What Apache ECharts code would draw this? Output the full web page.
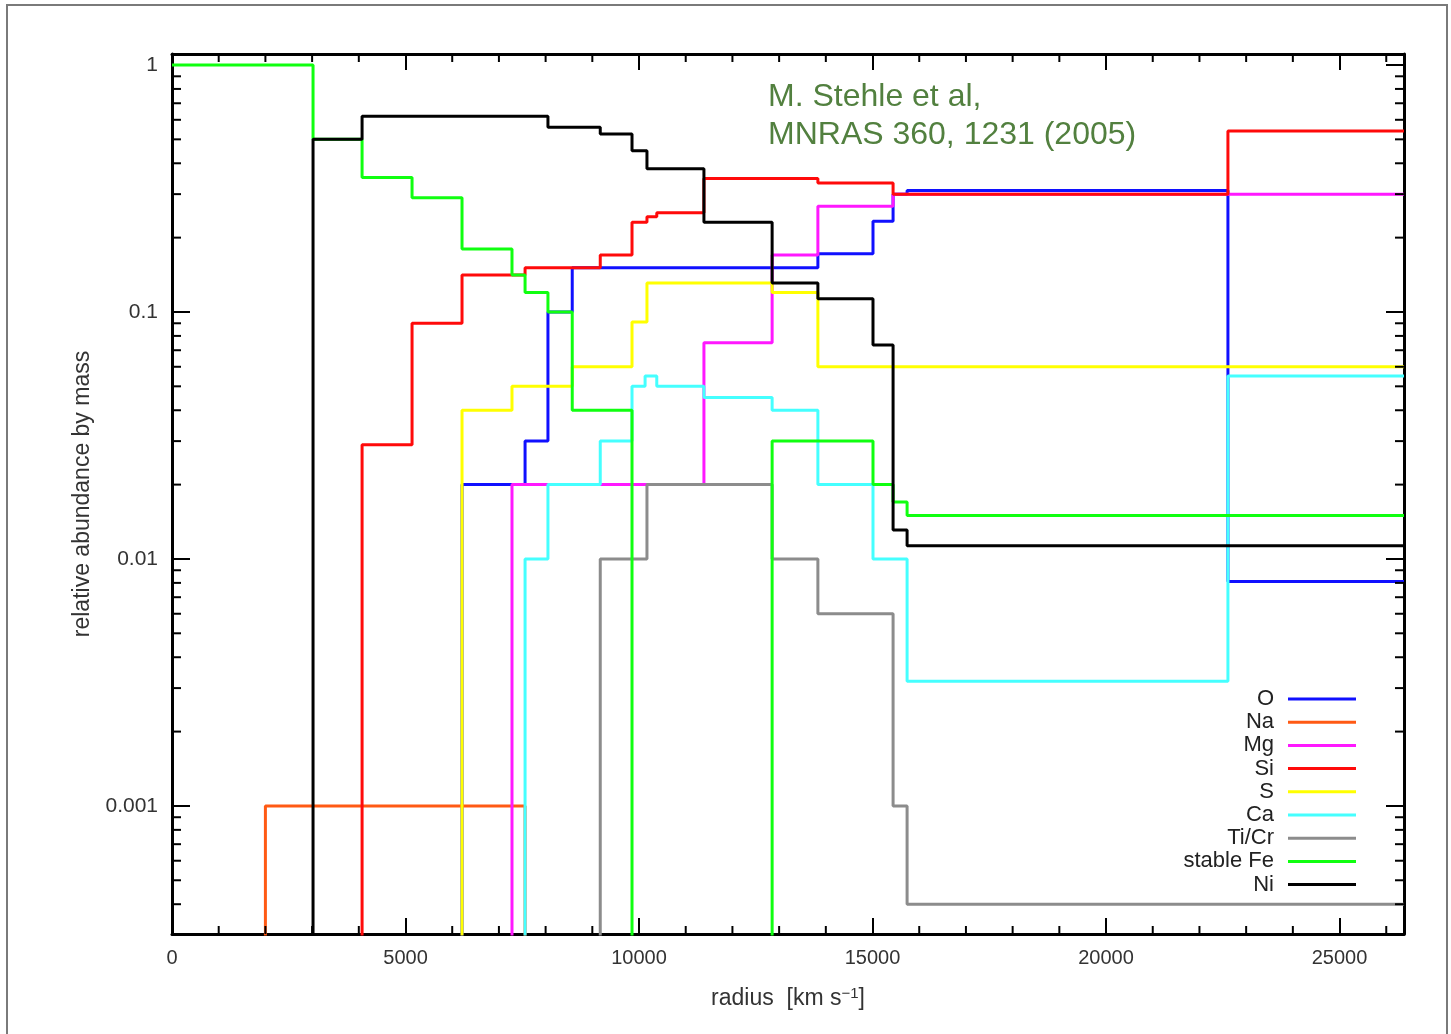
<!DOCTYPE html>
<html>
<head>
<meta charset="utf-8">
<title>Abundance stratification</title>
<script src="https://cdn.jsdelivr.net/npm/echarts@6/dist/echarts.min.js"></script>
<style>
  html, body { margin: 0; padding: 0; background: #fff; }
  #chart { width: 1451px; height: 1034px; }
</style>
</head>
<body>
<div id="chart"></div>
<script>
// values below the axis minimum (line drops out of the plot)
var LOW = 1e-5;
var X_MIN = 0, X_MAX = 26380;
var Y_MIN = 0.000303, Y_MAX = 1.108;

var xTickStep = 5000;
var xMinorTicks = [1000, 2000, 3000, 4000, 6000, 7000, 8000, 9000, 11000, 12000, 13000, 14000,
  16000, 17000, 18000, 19000, 21000, 22000, 23000, 24000, 26000];
var yTickLabels = { '-3': '0.001', '-2': '0.01', '-1': '0.1', '0': '1' };
var yMinorTicks = [0.0004, 0.0005, 0.0006, 0.0007, 0.0008, 0.0009,
  0.002, 0.003, 0.004, 0.005, 0.006, 0.007, 0.008, 0.009,
  0.02, 0.03, 0.04, 0.05, 0.06, 0.07, 0.08, 0.09,
  0.2, 0.3, 0.4, 0.5, 0.6, 0.7, 0.8, 0.9];

// shell boundaries (radius) and abundance in each shell
var oX  = [0, 6210, 7560, 8050, 8570, 13830, 15010, 15440, 15740, 22610, 26380];
var oY  = [LOW, 0.02, 0.03, 0.10, 0.151, 0.172, 0.233, 0.30, 0.31, 0.0081, 0.0081];

var naX = [0, 2000, 7560, 26380];
var naY = [LOW, 0.001, LOW, LOW];

var mgX = [0, 7280, 11390, 12850, 13830, 15440, 26380];
var mgY = [LOW, 0.02, 0.075, 0.17, 0.268, 0.30, 0.30];

var siX = [0, 4070, 5140, 6210, 7560, 9170, 9850, 10170, 10380, 11390, 13830, 15440, 22610, 26380];
var siY = [LOW, 0.029, 0.09, 0.141, 0.151, 0.17, 0.231, 0.243, 0.252, 0.347, 0.333, 0.30, 0.54, 0.54];

var sX  = [0, 6210, 7280, 8570, 9850, 10170, 12850, 13830, 26380];
var sY  = [LOW, 0.04, 0.05, 0.06, 0.091, 0.131, 0.12, 0.06, 0.06];

var caX = [0, 7560, 8050, 9170, 9850, 10130, 10380, 11390, 12850, 13830, 15010, 15740, 22610, 26380];
var caY = [LOW, 0.01, 0.02, 0.03, 0.05, 0.055, 0.05, 0.045, 0.04, 0.02, 0.01, 0.0032, 0.055, 0.055];

var tiX = [0, 9170, 10170, 12850, 13830, 15440, 15740, 26380];
var tiY = [LOW, 0.01, 0.02, 0.01, 0.006, 0.001, 0.0004, 0.0004];

var feX = [0, 3020, 4070, 5140, 6210, 7280, 7560, 8050, 8570, 9850, 12850, 15010, 15440, 15740, 26380];
var feY = [1, 0.5, 0.35, 0.29, 0.18, 0.141, 0.12, 0.1, 0.04, LOW, 0.03, 0.02, 0.017, 0.015, 0.015];

var niX = [0, 3020, 4070, 8050, 9170, 9850, 10170, 11390, 12850, 13830, 15010, 15440, 15740, 26380];
var niY = [LOW, 0.5, 0.62, 0.56, 0.526, 0.45, 0.38, 0.231, 0.131, 0.113, 0.0735, 0.0131, 0.0113, 0.0113];

var names  = ['O', 'Na', 'Mg', 'Si', 'S', 'Ca', 'Ti/Cr', 'stable Fe', 'Ni'];
var colors = ['#1010ff', '#ff5a14', '#ff18ff', '#ff0a0a', '#ffff00', '#45ffff', '#8c8c8c', '#10ff10', '#000000'];
var xs = [oX, naX, mgX, siX, sX, caX, tiX, feX, niX];
var ys = [oY, naY, mgY, siY, sY, caY, tiY, feY, niY];

var FONT = '"Liberation Sans", Arial, sans-serif';

function zip(a, b) {
  return a.map(function (v, i) { return [v, b[i]]; });
}

var series = names.map(function (name, i) {
  return {
    name: name,
    type: 'line',
    step: 'end',
    data: zip(xs[i], ys[i]),
    showSymbol: false,
    clip: true,
    lineStyle: { color: colors[i], width: 3 },
    itemStyle: { color: colors[i] },
    emphasis: { disabled: true },
    z: 2 + i
  };
});

var tickStyle = { stroke: '#000', lineWidth: 2 };

series.push({
  type: 'custom',
  silent: true,
  z: 20,
  data: yMinorTicks.map(function (v) { return [X_MIN, v]; }),
  renderItem: function (params, api) {
    var cs = params.coordSys;
    var p = api.coord([api.value(0), api.value(1)]);
    return { type: 'group', children: [
      { type: 'line', shape: { x1: cs.x, y1: p[1], x2: cs.x + 9, y2: p[1] }, style: tickStyle },
      { type: 'line', shape: { x1: cs.x + cs.width, y1: p[1], x2: cs.x + cs.width - 9, y2: p[1] }, style: tickStyle }
    ] };
  }
});
series.push({
  type: 'custom',
  silent: true,
  z: 20,
  data: xMinorTicks.map(function (v) { return [v, 1]; }),
  renderItem: function (params, api) {
    var cs = params.coordSys;
    var p = api.coord([api.value(0), api.value(1)]);
    return { type: 'group', children: [
      { type: 'line', shape: { x1: p[0], y1: cs.y + cs.height, x2: p[0], y2: cs.y + cs.height - 8 }, style: tickStyle },
      { type: 'line', shape: { x1: p[0], y1: cs.y, x2: p[0], y2: cs.y + 8 }, style: tickStyle }
    ] };
  }
});

function xAxis(pos, labels) {
  return {
    type: 'value', position: pos, min: X_MIN, max: X_MAX, interval: xTickStep,
    axisLine: { show: true, onZero: false, lineStyle: { color: '#000', width: 3 } },
    axisTick: { show: true, inside: true, length: 16, lineStyle: { color: '#000', width: 2 } },
    axisLabel: {
      show: labels, fontSize: 20, fontFamily: FONT, color: '#333', margin: 14, showMaxLabel: false,
      formatter: function (v) { return String(v); }
    },
    splitLine: { show: false }
  };
}
function yAxis(pos, labels) {
  return {
    type: 'log', logBase: 10, position: pos, min: Y_MIN, max: Y_MAX,
    axisLine: { show: true, onZero: false, lineStyle: { color: '#000', width: 3 } },
    axisTick: { show: true, inside: true, length: 18, lineStyle: { color: '#000', width: 2 } },
    axisLabel: {
      show: labels, fontSize: 21, fontFamily: FONT, color: '#333', margin: 14,
      showMinLabel: false, showMaxLabel: false,
      formatter: function (v) {
        var k = String(Math.round(Math.log10(v)));
        return yTickLabels[k] || '';
      }
    },
    splitLine: { show: false }
  };
}

var xb = xAxis('bottom', true);
xb.name = '{n|radius  [km s}{s|−1}{n|]}';
xb.nameLocation = 'middle';
xb.nameGap = 52;
xb.nameTextStyle = {
  rich: {
    n: { fontSize: 23, fontFamily: FONT, color: '#333', lineHeight: 26 },
    s: { fontSize: 15, fontFamily: FONT, color: '#333', lineHeight: 26, verticalAlign: 'top', padding: [0, 0, 13, 0] }
  }
};

var yl = yAxis('left', true);
yl.name = 'relative abundance by mass';
yl.nameLocation = 'middle';
yl.nameGap = 64;
yl.nameTextStyle = { fontSize: 23, fontFamily: FONT, color: '#333' };

var chart = echarts.init(document.getElementById('chart'));
chart.setOption({
  backgroundColor: '#ffffff',
  animation: false,
  grid: { left: 172, right: 47, top: 54, bottom: 100, containLabel: false },
  xAxis: [xb, xAxis('top', false)],
  yAxis: [yl, yAxis('right', false)],
  legend: {
    data: names,
    orient: 'vertical',
    align: 'right',
    right: 90,
    top: 683,
    icon: 'rect',
    itemWidth: 68,
    itemHeight: 3,
    itemGap: 1.2,
    selectedMode: false,
    textStyle: { fontSize: 22, fontFamily: FONT, color: '#222', lineHeight: 20, padding: [0, 9, 0, 0] }
  },
  graphic: [
    { type: 'rect', shape: { x: 7, y: 5, width: 1440, height: 1100 }, style: { fill: 'none', stroke: '#7a7a7a', lineWidth: 2 }, silent: true },
    { type: 'text', left: 768, top: 81, style: { text: 'M. Stehle et al,', font: '32px ' + FONT, fill: '#52803f' }, silent: true },
    { type: 'text', left: 768, top: 119, style: { text: 'MNRAS 360, 1231 (2005)', font: '32px ' + FONT, fill: '#52803f' }, silent: true }
  ],
  series: series
});
</script>
</body>
</html>
